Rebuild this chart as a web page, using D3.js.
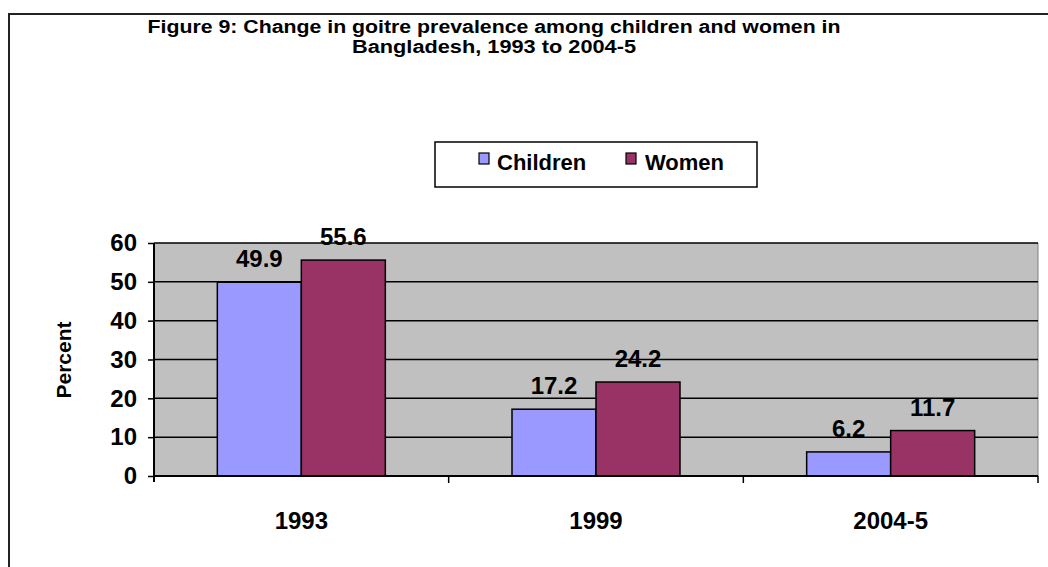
<!DOCTYPE html>
<html>
<head>
<meta charset="utf-8">
<script src="https://cdn.jsdelivr.net/npm/d3@7"></script>
<style>
  html, body { margin: 0; padding: 0; background: #fff; }
  svg { display: block; font-family: Arial, "Liberation Sans", sans-serif; }
</style>
</head>
<body>
<svg id="chart" width="1048" height="567"></svg>
<script>
// Goitre prevalence (%) by survey round
const categories = ["1993", "1999", "2004-5"];
const seriesNames = ["Children", "Women"];
const children = [49.9, 17.2, 6.2];
const women = [55.6, 24.2, 11.7];
const yTicks = [0, 10, 20, 30, 40, 50, 60];
const titleLines = [
  "Figure 9: Change in goitre prevalence among children and women in",
  "Bangladesh, 1993 to 2004-5"
];
const colors = ["#9999FF", "#993366"];

const svg = d3.select("#chart");

// outer frame (top and left edges)
svg.append("path")
  .attr("d", "M9,567 V14 H1048")
  .attr("fill", "none").attr("stroke", "#222").attr("stroke-width", 2);

// title (narrow bold face)
const titleWidths = [693, 284];
svg.append("g").selectAll("text").data(titleLines).join("text")
  .attr("x", 494).attr("y", (d, i) => 33 + i * 20)
  .attr("text-anchor", "middle")
  .attr("font-size", 18).attr("font-weight", "bold")
  .attr("textLength", (d, i) => titleWidths[i])
  .attr("lengthAdjust", "spacingAndGlyphs")
  .text(d => d);

// plot area
const margin = { left: 154, right: 1038, top: 243, bottom: 476 };
const x0 = d3.scaleBand().domain(categories).range([margin.left, margin.right]).paddingInner(0).paddingOuter(0);
const groupW = 168;
const x1 = d3.scaleBand().domain(seriesNames).range([0, groupW]);
const y = d3.scaleLinear().domain([0, 60]).range([margin.bottom, margin.top]);

svg.append("rect")
  .attr("x", margin.left).attr("y", margin.top)
  .attr("width", margin.right - margin.left).attr("height", margin.bottom - margin.top)
  .attr("fill", "#C0C0C0");

// right edge of plot area
svg.append("line")
  .attr("x1", margin.right).attr("x2", margin.right)
  .attr("y1", margin.top).attr("y2", margin.bottom)
  .attr("stroke", "#808080").attr("stroke-width", 1);

// horizontal gridlines
svg.append("g").selectAll("line").data(yTicks.filter(t => t > 0)).join("line")
  .attr("x1", margin.left).attr("x2", margin.right)
  .attr("y1", d => y(d)).attr("y2", d => y(d))
  .attr("stroke", "#000").attr("stroke-width", 1.5);

// bars
const rows = categories.map((c, i) => ({ cat: c, vals: [children[i], women[i]] }));
const groups = svg.append("g").selectAll("g").data(rows).join("g")
  .attr("transform", d => `translate(${x0(d.cat) + (x0.bandwidth() - groupW) / 2},0)`);

groups.selectAll("rect").data(d => d.vals.map((v, j) => ({ v, s: seriesNames[j], j }))).join("rect")
  .attr("x", d => x1(d.s))
  .attr("y", d => y(d.v))
  .attr("width", x1.bandwidth())
  .attr("height", d => y(0) - y(d.v))
  .attr("fill", d => colors[d.j])
  .attr("stroke", "#000").attr("stroke-width", 1.5);

// value labels
groups.selectAll("text").data(d => d.vals.map((v, j) => ({ v, s: seriesNames[j], j }))).join("text")
  .attr("x", d => x1(d.s) + x1.bandwidth() / 2)
  .attr("y", d => y(d.v) - 15)
  .attr("text-anchor", "middle")
  .attr("font-size", 24).attr("font-weight", "bold")
  .text(d => d.v.toFixed(1));

// y axis
const yAxis = d3.axisLeft(y).tickValues(yTicks).tickSize(6).tickPadding(11);
const gy = svg.append("g").attr("transform", `translate(${margin.left},0)`).call(yAxis);
gy.select(".domain").attr("stroke", "#000").attr("stroke-width", 2).attr("d", `M0,${margin.top}V${margin.bottom + 6}`);
gy.selectAll(".tick line").attr("stroke", "#000").attr("stroke-width", 1.5);
gy.selectAll(".tick text").attr("font-size", 24).attr("font-weight", "bold")
  .attr("font-family", "Arial, 'Liberation Sans', sans-serif").attr("fill", "#000");

// x axis: ticks between categories
const xAxisG = svg.append("g");
xAxisG.append("line")
  .attr("x1", margin.left).attr("x2", margin.right)
  .attr("y1", margin.bottom).attr("y2", margin.bottom)
  .attr("stroke", "#000").attr("stroke-width", 2);
const boundaries = categories.map(c => x0(c)).slice(1).concat([margin.right]);
xAxisG.selectAll("line.tk").data(boundaries).join("line").attr("class", "tk")
  .attr("x1", d => d).attr("x2", d => d)
  .attr("y1", margin.bottom).attr("y2", margin.bottom + 7)
  .attr("stroke", "#000").attr("stroke-width", 1.5);
xAxisG.selectAll("text").data(categories).join("text")
  .attr("x", d => x0(d) + x0.bandwidth() / 2)
  .attr("y", 529)
  .attr("text-anchor", "middle")
  .attr("font-size", 24).attr("font-weight", "bold")
  .text(d => d);

// y axis title
svg.append("text")
  .attr("transform", "translate(71,360) rotate(-90)")
  .attr("text-anchor", "middle")
  .attr("font-size", 21).attr("font-weight", "bold")
  .text("Percent");

// legend
const legend = svg.append("g");
legend.append("rect")
  .attr("x", 435).attr("y", 142).attr("width", 322).attr("height", 45)
  .attr("fill", "#fff").attr("stroke", "#000").attr("stroke-width", 1.5);
const legendItems = [{ name: seriesNames[0], sx: 479, tx: 497 }, { name: seriesNames[1], sx: 626, tx: 645 }];
legendItems.forEach((it, i) => {
  legend.append("rect")
    .attr("x", it.sx).attr("y", 153).attr("width", 10).attr("height", 11)
    .attr("fill", colors[i]).attr("stroke", "#000").attr("stroke-width", 1.2);
  legend.append("text")
    .attr("x", it.tx).attr("y", 170)
    .attr("font-size", 22).attr("font-weight", "bold")
    .text(it.name);
});
</script>
</body>
</html>
